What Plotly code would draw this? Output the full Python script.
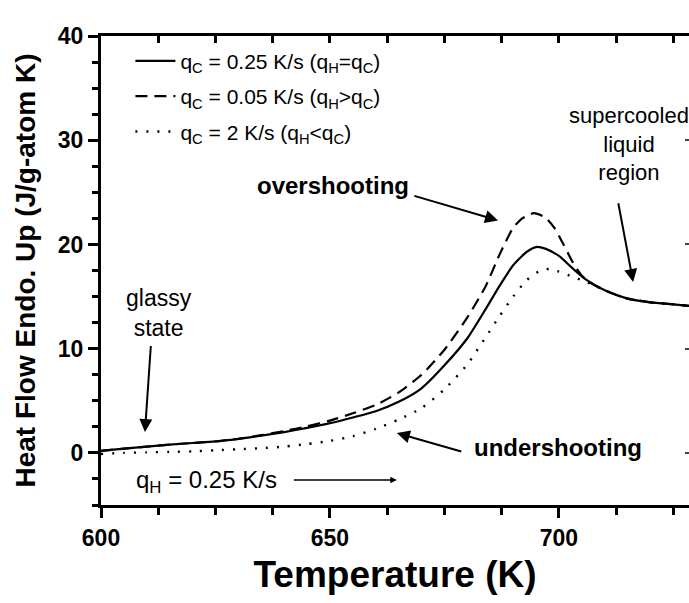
import plotly.graph_objects as go

# ---------------- data ----------------
t_solid = [600, 605, 610, 615, 620, 625, 630, 635, 640, 645, 650, 655, 660, 665, 670, 675, 680,
           684, 687, 690, 693, 695, 697, 700, 703, 706, 710, 715, 720, 725, 730]
hf_solid = [0.2, 0.4, 0.6, 0.8, 0.95, 1.1, 1.35, 1.65, 2.0, 2.4, 2.85, 3.4, 4.0, 4.9, 6.2, 8.4, 11.0,
            13.8, 16.0, 18.0, 19.3, 19.75, 19.6, 18.9, 17.7, 16.6, 15.6, 14.8, 14.45, 14.25, 14.05]

t_dash = [600, 605, 610, 615, 620, 625, 630, 635, 640, 645, 650, 655, 660, 665, 670, 675, 680,
          684, 687, 690, 692, 694.5, 697, 699, 701, 703, 705, 707, 710, 715, 720, 725, 730]
hf_dash = [0.2, 0.4, 0.6, 0.8, 0.95, 1.1, 1.35, 1.7, 2.1, 2.55, 3.1, 3.8, 4.6, 5.8, 7.5, 9.9, 13.0,
           16.0, 19.0, 21.6, 22.5, 23.0, 22.6, 21.6, 20.0, 18.3, 17.0, 16.3, 15.6, 14.8, 14.45, 14.25, 14.05]

t_dot = [600, 605, 610, 615, 620, 625, 630, 635, 640, 645, 650, 655, 660, 665, 670, 675, 680,
         684, 687, 690, 693, 696, 698, 700, 703, 706, 710, 715, 720, 725, 730]
hf_dot = [-0.1, 0.0, 0.05, 0.1, 0.15, 0.25, 0.35, 0.45, 0.6, 0.85, 1.15, 1.6, 2.3, 3.2, 4.3, 6.1, 8.5,
          11.1, 13.1, 15.0, 16.6, 17.5, 17.65, 17.4, 16.9, 16.4, 15.6, 14.8, 14.45, 14.25, 14.05]

names = ["q<sub>C</sub> = 0.25 K/s (q<sub>H</sub>=q<sub>C</sub>)",
         "q<sub>C</sub> = 0.05 K/s (q<sub>H</sub>>q<sub>C</sub>)",
         "q<sub>C</sub> = 2 K/s (q<sub>H</sub><q<sub>C</sub>)"]

x_ticks = [600, 650, 700]
y_ticks = [0, 10, 20, 30, 40]

FONT = "Liberation Sans, Arial, sans-serif"

fig = go.Figure()
fig.add_trace(go.Scatter(x=t_solid, y=hf_solid, mode="lines", name=names[0], legendgroup="a",
                         line=dict(color="black", width=2.2, shape="spline", smoothing=0.6)))
fig.add_trace(go.Scatter(x=t_dash, y=hf_dash, mode="lines", name=names[1], legendgroup="b",
                         line=dict(color="black", width=2.2, dash="12px,7px", shape="spline", smoothing=0.6)))
fig.add_trace(go.Scatter(x=t_dot, y=hf_dot, mode="lines", name=names[2], legendgroup="c",
                         line=dict(color="black", width=2.4, dash="2px,9px", shape="spline", smoothing=0.6)))
# invisible trace for the mirrored (top / right) axes
fig.add_trace(go.Scatter(x=[600], y=[0], xaxis="x2", yaxis="y2", mode="markers",
                         marker=dict(opacity=0), showlegend=False, hoverinfo="skip"))

tickfont = dict(family=FONT, size=23, color="black", weight="bold")

fig.update_layout(
    width=689, height=603,
    margin=dict(l=101, r=0, t=36, b=98),
    paper_bgcolor="white", plot_bgcolor="white",
    showlegend=True,
    legend=dict(x=0.05, y=0.99, xanchor="left", yanchor="top", bgcolor="rgba(0,0,0,0)",
                font=dict(family=FONT, size=21, color="black"), tracegroupgap=5,
                itemwidth=40),
    xaxis=dict(range=[600, 728.4], tickvals=x_ticks, ticks="outside", ticklen=10, tickwidth=2.5,
               tickcolor="black", showline=True, linewidth=3, linecolor="black", showgrid=False,
               zeroline=False, tickfont=tickfont,
               minor=dict(dtick=12.5, tick0=600, ticks="outside", ticklen=7, tickwidth=2.5, tickcolor="black"),
               title=dict(text="Temperature (K)", standoff=12,
                          font=dict(family=FONT, size=37, color="black", weight="bold"))),
    yaxis=dict(range=[-5, 40], tickvals=y_ticks, ticks="outside", ticklen=10, tickwidth=2.5,
               tickcolor="black", showline=True, linewidth=3, linecolor="black", showgrid=False,
               zeroline=False, tickfont=tickfont,
               minor=dict(dtick=2.5, tick0=0, ticks="outside", ticklen=6, tickwidth=2.5, tickcolor="black"),
               title=dict(text="Heat Flow Endo. Up (J/g-atom K)", standoff=15,
                          font=dict(family=FONT, size=28, color="black", weight="bold"))),
    xaxis2=dict(overlaying="x", side="top", range=[600, 728.4], dtick=12.5, tick0=600,
                ticks="inside", ticklen=7, tickwidth=2.5, tickcolor="black", showticklabels=False,
                showline=True, linewidth=3, linecolor="black", showgrid=False, zeroline=False),
    yaxis2=dict(overlaying="y", side="right", range=[-5, 40], tickvals=y_ticks,
                ticks="inside", ticklen=4, tickwidth=2, tickcolor="#444", showticklabels=False,
                showline=False, showgrid=False, zeroline=False),
)

txt = dict(family=FONT, size=23, color="black")
stxt = dict(family=FONT, size=22, color="black")
qtxt = dict(family=FONT, size=24, color="black")
btxt = dict(family=FONT, size=24, color="black", weight="bold")

annotations = [
    # texts
    dict(x=650.7, y=25.7, text="overshooting", font=btxt, showarrow=False),
    dict(x=681.0, y=0.5, text="undershooting", font=btxt, showarrow=False, xanchor="left"),
    dict(x=612.7, y=13.4, text="glassy<br>state", font=txt, showarrow=False),
    dict(x=715.2, y=29.6, text="supercooled<br>liquid<br>region", font=stxt, showarrow=False),
    dict(x=607.2, y=-2.7, text="q<sub>H</sub> = 0.25 K/s", font=qtxt, showarrow=False, xanchor="left"),
    # arrows
    dict(x=686.7, y=22.3, ax=668.1, ay=24.7, axref="x", ayref="y", text="", showarrow=True,
         arrowhead=2, arrowsize=1.3, arrowwidth=2, arrowcolor="black"),
    dict(x=664.6, y=1.9, ax=679.0, ay=0.1, axref="x", ayref="y", text="", showarrow=True,
         arrowhead=2, arrowsize=1.3, arrowwidth=2, arrowcolor="black"),
    dict(x=609.6, y=2.0, ax=610.9, ay=10.4, axref="x", ayref="y", text="", showarrow=True,
         arrowhead=2, arrowsize=1.3, arrowwidth=2, arrowcolor="black"),
    dict(x=716.2, y=16.4, ax=712.9, ay=24.1, axref="x", ayref="y", text="", showarrow=True,
         arrowhead=2, arrowsize=1.3, arrowwidth=2, arrowcolor="black"),
    dict(x=664.6, y=-2.6, ax=641.8, ay=-2.6, axref="x", ayref="y", text="", showarrow=True,
         arrowhead=2, arrowsize=1.0, arrowwidth=1.3, arrowcolor="black"),
]
fig.update_layout(annotations=annotations)

fig.write_html("out.html")
